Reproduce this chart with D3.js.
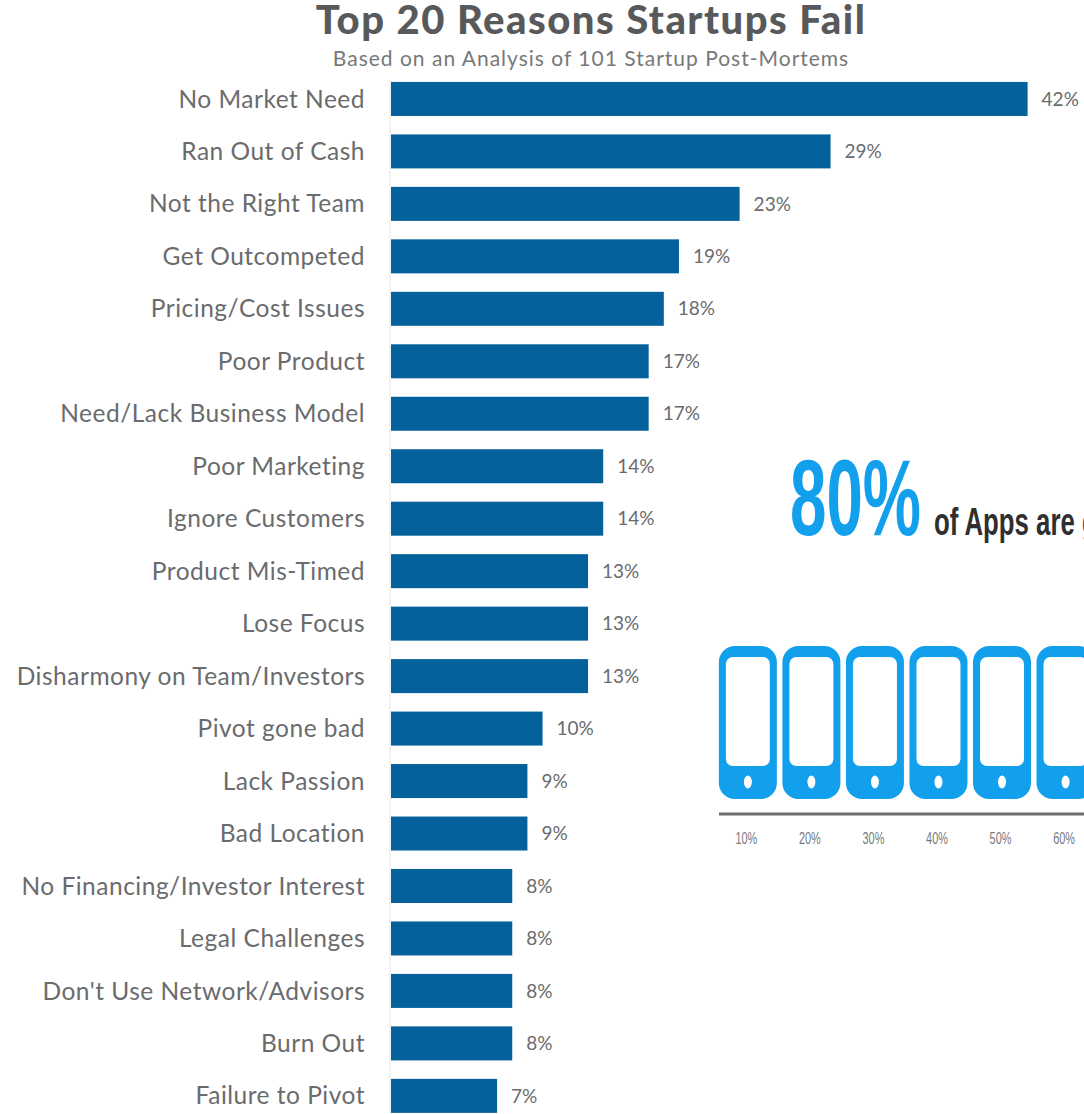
<!DOCTYPE html>
<html>
<head>
<meta charset="utf-8">
<script src="https://cdnjs.cloudflare.com/ajax/libs/d3/7.8.5/d3.min.js"></script>
<style>
html,body{margin:0;padding:0;background:#fff;overflow:hidden}
svg{display:block}
</style>
</head>
<body>
<svg id="chart" width="1084" height="1114"></svg>
<script>
// Failure reasons, ordered as ranked in the survey
const reasons = ["No Market Need","Ran Out of Cash","Not the Right Team","Get Outcompeted","Pricing/Cost Issues","Poor Product","Need/Lack Business Model","Poor Marketing","Ignore Customers","Product Mis-Timed","Lose Focus","Disharmony on Team/Investors","Pivot gone bad","Lack Passion","Bad Location","No Financing/Investor Interest","Legal Challenges","Don't Use Network/Advisors","Burn Out","Failure to Pivot"];
const shares = [42,29,23,19,18,17,17,14,14,13,13,13,10,9,9,8,8,8,8,7];
// Phone pictogram deciles
const deciles = [10,20,30,40,50,60];

const svg = d3.select("#chart");
const labelFont = "Lato, 'Open Sans', sans-serif";
const narrowFont = "'Liberation Sans', Arial, sans-serif";

const x = d3.scaleLinear().domain([0,42]).range([391,1027.6]);
const y = d3.scaleBand().domain(reasons).range([72.7,1122.1]).paddingInner(0.352).paddingOuter(0.176);

svg.append("text").attr("x",591).attr("y",34).attr("text-anchor","middle")
  .attr("font-family",labelFont).attr("font-weight",900).attr("font-size",40).attr("letter-spacing",1.5).attr("fill","#58595b")
  .text("Top 20 Reasons Startups Fail");
svg.append("text").attr("x",591).attr("y",66).attr("text-anchor","middle")
  .attr("font-family",labelFont).attr("font-size",21).attr("letter-spacing",1).attr("fill","#77787a")
  .text("Based on an Analysis of 101 Startup Post-Mortems");

svg.append("line").attr("x1",390).attr("x2",390).attr("y1",80).attr("y2",1114)
  .attr("stroke","#e6e6e2").attr("stroke-width",1);

const row = svg.append("g").selectAll("g").data(reasons).join("g");
row.append("rect")
  .attr("x",x(0)).attr("y",d=>y(d))
  .attr("width",(d,i)=>x(shares[i])-x(0)).attr("height",y.bandwidth())
  .attr("fill","#05619c");
row.append("text")
  .attr("x",365).attr("y",d=>y(d)+y.bandwidth()/2).attr("dy","0.35em")
  .attr("text-anchor","end").attr("font-family",labelFont).attr("font-size",24.5).attr("letter-spacing",0.5).attr("fill","#6a6b6d")
  .text(d=>d);
row.append("text")
  .attr("x",(d,i)=>x(shares[i])+14).attr("y",d=>y(d)+y.bandwidth()/2).attr("dy","0.35em")
  .attr("font-family",labelFont).attr("font-size",19).attr("fill","#6a6b6d")
  .text((d,i)=>shares[i]+"%");

// App-abandonment callout, set in a narrowed sans
const callout = svg.append("g");
callout.append("text").attr("transform","translate(790,535) scale(0.606,1)")
  .attr("font-family",narrowFont).attr("font-weight",700).attr("font-size",108).attr("fill","#12a0ec")
  .text("80%");
callout.append("text").attr("transform","translate(934,535) scale(0.678,1)")
  .attr("font-family",narrowFont).attr("font-weight",700).attr("font-size",38).attr("fill","#2f2f2f")
  .text("of Apps are g");

const px = d3.scaleBand().domain(deciles).range([716,1097.4]).paddingInner(0.087).paddingOuter(0.045);
const phone = svg.append("g").selectAll("g").data(deciles).join("g")
  .attr("transform",d=>`translate(${px(d)},646)`);
phone.append("rect").attr("width",px.bandwidth()).attr("height",153).attr("rx",16).attr("fill","#12a0ec");
phone.append("rect").attr("x",7).attr("y",11).attr("width",px.bandwidth()-14).attr("height",109).attr("rx",7).attr("fill","#fff");
phone.append("ellipse").attr("cx",px.bandwidth()/2).attr("cy",136).attr("rx",4).attr("ry",6.5).attr("fill","#fff");

svg.append("line").attr("x1",719).attr("x2",1084).attr("y1",814).attr("y2",814)
  .attr("stroke","#6f6f6f").attr("stroke-width",3);

svg.append("g").selectAll("text").data(deciles).join("text")
  .attr("transform",d=>`translate(${px(d)+px.bandwidth()/2-1.5},844) scale(0.64,1)`)
  .attr("text-anchor","middle").attr("font-family",narrowFont)
  .attr("font-size",17).attr("fill","#77787a")
  .text(d=>d+"%");
</script>
</body>
</html>
